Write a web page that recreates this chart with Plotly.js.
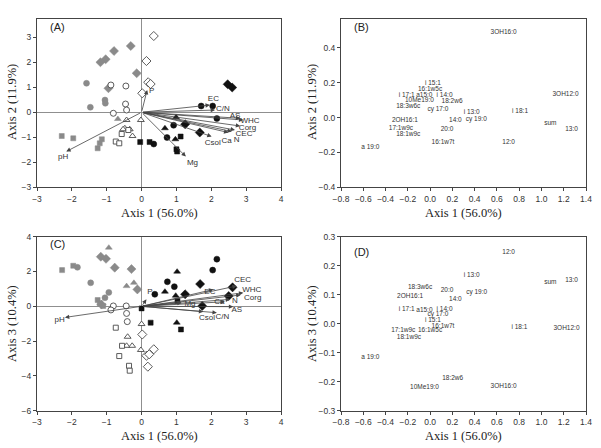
<!DOCTYPE html>
<html>
<head>
<meta charset="utf-8">
<script src="https://cdn.plot.ly/plotly-3.0.1.min.js"></script>
<style>html,body{margin:0;padding:0;background:#fff}#chart{width:601px;height:448px}</style>
</head>
<body>
<div id="chart"></div>
<script>
// ---------- Panel A (Axis 1 vs Axis 2), sample scores ----------
const aGrayDiaX = [-0.31, -0.79, -1.03, -1.18, -0.14, -0.95];
const aGrayDiaY = [2.65, 2.45, 2.12, 2.0, 1.56, 0.96];
const aGrayCirX = [-1.58, -1.05, -1.04, -1.47];
const aGrayCirY = [1.16, 0.49, 0.36, 0.2];
const aGraySqX = [-2.29, -1.96, -1.14, -1.2, -1.26];
const aGraySqY = [-0.95, -1.04, -1.08, -1.24, -1.44];
const aGrayTriX = [-0.68];
const aGrayTriY = [-0.27];
const aOpenCirX = [-0.88, -0.45, -0.46, -0.43, -0.81];
const aOpenCirY = [1.09, 1.05, 0.33, 0.09, -0.04];
const aOpenDiaX = [0.35, 0.14, 0.19, 0.26, 0.02];
const aOpenDiaY = [3.05, 2.05, 1.2, 1.13, 0.76];
const aOpenTriX = [-0.43, -0.02, -0.48, -0.34, -0.26, -0.53];
const aOpenTriY = [-0.31, -0.31, -0.64, -0.68, -0.95, -0.68];
const aOpenSqX = [-0.57, -0.38, -0.74, -0.64];
const aOpenSqY = [-0.87, -0.71, -1.17, -1.24];
const aBlkCirX = [1.71, 2.04, 2.16, 0.92, 0.73, 0.35];
const aBlkCirY = [0.25, 0.25, -0.25, -0.52, -1.01, -1.27];
const aBlkDiaX = [2.47, 2.6, 1.25, 1.67];
const aBlkDiaY = [1.12, 0.99, -0.48, -0.81];
const aBlkSqX = [-0.04, 0.23, 1.12, 1.0, 1.02];
const aBlkSqY = [-1.19, -1.19, -0.97, -1.48, -1.57];
const aBlkTriX = [0.99, 0.67, 0.97];
const aBlkTriY = [-0.2, -0.64, -1.08];

// Panel A environmental vectors
const vecNamesA = ['EC', 'C/N', 'AS', 'WHC', 'Corg', 'CEC', 'N', 'Ca', 'Csol', 'Mg', 'pH', 'P'];
const vecXA = [1.96, 2.11, 2.83, 2.92, 2.83, 2.68, 2.59, 2.49, 2.01, 1.27, -2.16, 0.16];
const vecYA = [0.29, 0.09, -0.24, -0.31, -0.55, -0.71, -0.77, -0.81, -0.97, -1.77, -1.57, 0.89];
const vecLabXA = [2.06, 2.33, 2.68, 3.11, 3.04, 2.94, 2.73, 2.44, 2.04, 1.46, -2.25, 0.29];
const vecLabYA = [0.52, 0.12, -0.15, -0.33, -0.61, -0.86, -1.1, -1.13, -1.24, -2.01, -1.77, 0.87];

// ---------- Panel C (Axis 1 vs Axis 3), sample scores ----------
const cGrayDiaX = [-1.17, -1.02, -0.77, -0.29, -0.12, -1.15];
const cGrayDiaY = [2.85, 2.73, 2.22, 2.14, 0.97, 0.1];
const cGrayCirX = [-1.84, -1.46, -0.94, -1.05];
const cGrayCirY = [2.24, 1.35, 0.8, 0.49];
const cGraySqX = [-2.28, -1.96, -1.26, -1.2, -1.1];
const cGraySqY = [2.08, 2.33, 0.36, 0.17, 0.02];
const cGrayTriX = [-0.94, -0.22, -0.43];
const cGrayTriY = [3.37, 1.35, 1.16];
const cOpenCirX = [-0.81, -0.88, -0.44, -0.43, -0.41];
const cOpenCirY = [0.02, -0.21, 0.02, -0.41, -0.88];
const cOpenDiaX = [0.02, 0.14, 0.22, 0.35, 0.18];
const cOpenDiaY = [-1.62, -2.84, -2.76, -2.47, -3.47];
const cOpenTriX = [0, -0.4, -0.43, -0.27, -0.02];
const cOpenTriY = [-1.02, -1.75, -2.27, -2.27, -2.51];
const cOpenSqX = [-0.74, -0.56, -0.64, -0.36, -0.34];
const cOpenSqY = [-1.23, -2.27, -2.86, -3.42, -3.7];
const cBlkCirX = [2.16, 2.04, 0.74, 0.94, 0.38];
const cBlkCirY = [2.71, 2.08, 1.41, 1.13, 0.69];
const cBlkDiaX = [2.61, 1.68, 1.25, 1.74, 2.5];
const cBlkDiaY = [1.09, 1.28, 0.69, 0.02, 0.59];
const cBlkSqX = [0, 0.26, 1.13, 1.03];
const cBlkSqY = [-0.12, -0.94, -1.33, 0.3];
const cBlkTriX = [1.02, 0.67, 0.98, 1.01];
const cBlkTriY = [1.99, 0.84, 0.61, -0.94];

// Panel C environmental vectors
const vecNamesC = ['CEC', 'WHC', 'Corg', 'EC', 'N', 'Ca', 'AS', 'C/N', 'Csol', 'Mg', 'P', 'pH'];
const vecXC = [2.73, 2.92, 2.84, 2.06, 2.54, 2.39, 2.63, 2.16, 1.77, 1.15, 0.14, -2.2];
const vecYC = [1.17, 0.78, 0.65, 0.97, 0.4, 0.26, -0.02, -0.37, -0.31, 0.21, 0.4, -0.64];
const vecLabXC = [2.9, 3.16, 3.19, 1.96, 2.68, 2.23, 2.73, 2.32, 1.88, 1.39, 0.24, -2.35];
const vecLabYC = [1.51, 0.93, 0.49, 0.84, 0.32, 0.26, -0.21, -0.6, -0.69, 0.13, 0.84, -0.79];

// ---------- Panels B and D: PLFA (FAME) scores ----------
const fameNames = ['3OH16:0', 'i 15:1', '16:1w5c', 'i 17:1', 'a15:0', 'i 14:0', '3OH12:0', '10Me19:0',
  '18:2w6', '18:3w6c', 'cy 17:0', 'i 13:0', 'i 18:1', 'cy 19:0', '14:0', '2OH16:1', 'sum', '13:0',
  '20:0', '17:1w9c', '18:1w9c', '16:1w7t', '12:0', 'a 19:0'];
const bAxis1 = [0.66, 0.025, 0.0, -0.21, -0.052, 0.13, 1.216, -0.096, 0.197, -0.196, 0.07, 0.373, 0.808,
  0.415, 0.227, -0.226, 1.08, 1.27, 0.152, -0.262, -0.196, 0.116, 0.705, -0.537];
const bAxis2 = [0.488, 0.196, 0.16, 0.129, 0.129, 0.127, 0.131, 0.1, 0.094, 0.065, 0.046, 0.027, 0.038,
  -0.008, -0.019, -0.015, -0.035, -0.067, -0.067, -0.065, -0.096, -0.142, -0.144, -0.173];
const dAxis1 = [0.66, 0.025, 0.0, -0.21, -0.051, 0.13, 1.225, -0.05, 0.203, -0.09, 0.07, 0.373, 0.802,
  0.418, 0.227, -0.18, 1.08, 1.27, 0.152, -0.241, -0.19, 0.116, 0.705, -0.537];
const dAxis3 = [-0.215, 0.013, -0.024, 0.051, 0.047, 0.051, -0.015, -0.22, -0.19, 0.125, 0.031, 0.168, -0.014,
  0.109, 0.085, 0.093, 0.143, 0.151, 0.115, -0.024, -0.047, -0.008, 0.246, -0.117];

// ---------- styles ----------
const GRAY = '#8a8a8a', BLACK = '#111111', OPENLINE = '#4a4a4a';
const SYM = {dia: 'diamond', cir: 'circle', sq: 'square', tri: 'triangle-up'};
const SIZE = {dia: 7, cir: 6, sq: 5, tri: 6};
function pts(x, y, shape, kind, xa, ya) {
  let fill, line;
  if (kind === 'gray') { fill = GRAY; line = GRAY; }
  else if (kind === 'open') { fill = '#ffffff'; line = OPENLINE; }
  else { fill = BLACK; line = BLACK; }
  return {type: 'scatter', mode: 'markers', x: x, y: y, xaxis: xa, yaxis: ya, hoverinfo: 'skip',
    marker: {symbol: SYM[shape], size: SIZE[shape], color: fill, line: {color: line, width: kind === 'open' ? 0.9 : 0.5}},
    showlegend: false};
}
function labels(x, y, t, xa, ya, size) {
  return {type: 'scatter', mode: 'text', x: x, y: y, text: t, xaxis: xa, yaxis: ya, hoverinfo: 'skip',
    textposition: 'middle center', textfont: {family: 'Liberation Sans, Arial, sans-serif', size: size, color: '#333333'},
    showlegend: false, cliponaxis: false};
}

const traces = [
  pts(aGrayDiaX, aGrayDiaY, 'dia', 'gray', 'x', 'y'),
  pts(aGrayCirX, aGrayCirY, 'cir', 'gray', 'x', 'y'),
  pts(aGraySqX, aGraySqY, 'sq', 'gray', 'x', 'y'),
  pts(aGrayTriX, aGrayTriY, 'tri', 'gray', 'x', 'y'),
  pts(aOpenCirX, aOpenCirY, 'cir', 'open', 'x', 'y'),
  pts(aOpenDiaX, aOpenDiaY, 'dia', 'open', 'x', 'y'),
  pts(aOpenTriX, aOpenTriY, 'tri', 'open', 'x', 'y'),
  pts(aOpenSqX, aOpenSqY, 'sq', 'open', 'x', 'y'),
  pts(aBlkCirX, aBlkCirY, 'cir', 'blk', 'x', 'y'),
  pts(aBlkDiaX, aBlkDiaY, 'dia', 'blk', 'x', 'y'),
  pts(aBlkSqX, aBlkSqY, 'sq', 'blk', 'x', 'y'),
  pts(aBlkTriX, aBlkTriY, 'tri', 'blk', 'x', 'y'),
  labels(vecLabXA, vecLabYA, vecNamesA, 'x', 'y', 8),

  labels(bAxis1, bAxis2, fameNames, 'x2', 'y2', 6.5),

  pts(cGrayDiaX, cGrayDiaY, 'dia', 'gray', 'x3', 'y3'),
  pts(cGrayCirX, cGrayCirY, 'cir', 'gray', 'x3', 'y3'),
  pts(cGraySqX, cGraySqY, 'sq', 'gray', 'x3', 'y3'),
  pts(cGrayTriX, cGrayTriY, 'tri', 'gray', 'x3', 'y3'),
  pts(cOpenCirX, cOpenCirY, 'cir', 'open', 'x3', 'y3'),
  pts(cOpenDiaX, cOpenDiaY, 'dia', 'open', 'x3', 'y3'),
  pts(cOpenTriX, cOpenTriY, 'tri', 'open', 'x3', 'y3'),
  pts(cOpenSqX, cOpenSqY, 'sq', 'open', 'x3', 'y3'),
  pts(cBlkCirX, cBlkCirY, 'cir', 'blk', 'x3', 'y3'),
  pts(cBlkDiaX, cBlkDiaY, 'dia', 'blk', 'x3', 'y3'),
  pts(cBlkSqX, cBlkSqY, 'sq', 'blk', 'x3', 'y3'),
  pts(cBlkTriX, cBlkTriY, 'tri', 'blk', 'x3', 'y3'),
  labels(vecLabXC, vecLabYC, vecNamesC, 'x3', 'y3', 8),

  labels(dAxis1, dAxis3, fameNames, 'x4', 'y4', 6.5)
];

// arrows (biplot vectors) drawn from the origin through the axes
const annotations = [];
function arrows(xs, ys, xr, yr) {
  for (let i = 0; i < xs.length; i++) {
    annotations.push({x: xs[i], y: ys[i], ax: 0, ay: 0, xref: xr, yref: yr, axref: xr, ayref: yr,
      text: '', showarrow: true, arrowhead: 2, arrowsize: 1.1, arrowwidth: 0.8, arrowcolor: '#444', standoff: 0});
  }
}
arrows(vecXA, vecYA, 'x', 'y');
arrows(vecXC, vecYC, 'x3', 'y3');

const TXT = {family: 'Liberation Sans, Arial, sans-serif', size: 11, color: '#222'};
const TTL = {family: 'Liberation Serif, Times New Roman, serif', size: 12.5, color: '#222'};
function pa(text, xpx, ypx, font, extra) {
  annotations.push(Object.assign({text: text, xref: 'paper', yref: 'paper', x: xpx / 601, y: 1 - ypx / 448,
    xanchor: 'center', yanchor: 'middle', showarrow: false, font: font}, extra || {}));
}
pa('(A)', 57, 27, TXT);
pa('(B)', 361, 27, TXT);
pa('(C)', 57, 244, TXT);
pa('(D)', 361, 252, TXT);
pa('Axis 1 (56.0%)', 159, 213, TTL);
pa('Axis 1 (56.0%)', 463.5, 213, TTL);
pa('Axis 1 (56.0%)', 159, 436, TTL);
pa('Axis 1 (56.0%)', 463.5, 436, TTL);
pa('Axis 2 (11.9%)', 12, 102, TTL, {textangle: -90});
pa('Axis 2 (11.9%)', 312, 102, TTL, {textangle: -90});
pa('Axis 3 (10.4%)', 12, 324, TTL, {textangle: -90});
pa('Axis 3 (10.4%)', 312, 324, TTL, {textangle: -90});

const base = {showline: true, linecolor: '#444', linewidth: 1, mirror: true, ticks: 'outside', ticklen: 3,
  tickcolor: '#444', tickwidth: 1, showgrid: false, fixedrange: true,
  tickfont: {family: 'Liberation Sans, Arial, sans-serif', size: 8.5, color: '#333'}};
const topDom = [1 - 187.3 / 448, 1 - 19 / 448];
const botDom = [1 - 410.7 / 448, 1 - 236.7 / 448];
const leftDom = [37 / 601, 281 / 601];
const rightDom = [341 / 601, 586 / 601];
const zl = {zeroline: true, zerolinecolor: '#8f8f8f', zerolinewidth: 1};

const layout = {
  width: 601, height: 448, margin: {l: 0, r: 0, t: 0, b: 0},
  paper_bgcolor: '#fff', plot_bgcolor: '#fff', showlegend: false,
  xaxis: Object.assign({}, base, zl, {domain: leftDom, range: [-3, 4], dtick: 1, anchor: 'y'}),
  yaxis: Object.assign({}, base, zl, {domain: topDom, range: [-3, 3.73], dtick: 1, anchor: 'x'}),
  xaxis2: Object.assign({}, base, {zeroline: false, domain: rightDom, range: [-0.8, 1.4], dtick: 0.2, tickformat: '.1f', anchor: 'y2'}),
  yaxis2: Object.assign({}, base, {zeroline: false, domain: topDom, range: [-0.4, 0.565], dtick: 0.2, tickformat: '.1f', anchor: 'x2'}),
  xaxis3: Object.assign({}, base, zl, {domain: leftDom, range: [-3, 4], dtick: 1, anchor: 'y3'}),
  yaxis3: Object.assign({}, base, zl, {domain: botDom, range: [-6, 4], dtick: 2, anchor: 'x3'}),
  xaxis4: Object.assign({}, base, {zeroline: false, domain: rightDom, range: [-0.8, 1.4], dtick: 0.2, tickformat: '.1f', anchor: 'y4'}),
  yaxis4: Object.assign({}, base, {zeroline: false, domain: botDom, range: [-0.3, 0.3], dtick: 0.1, tickformat: '.1f', anchor: 'x4'}),
  annotations: annotations
};

Plotly.newPlot('chart', traces, layout, {staticPlot: true, displayModeBar: false});
</script>
</body>
</html>
